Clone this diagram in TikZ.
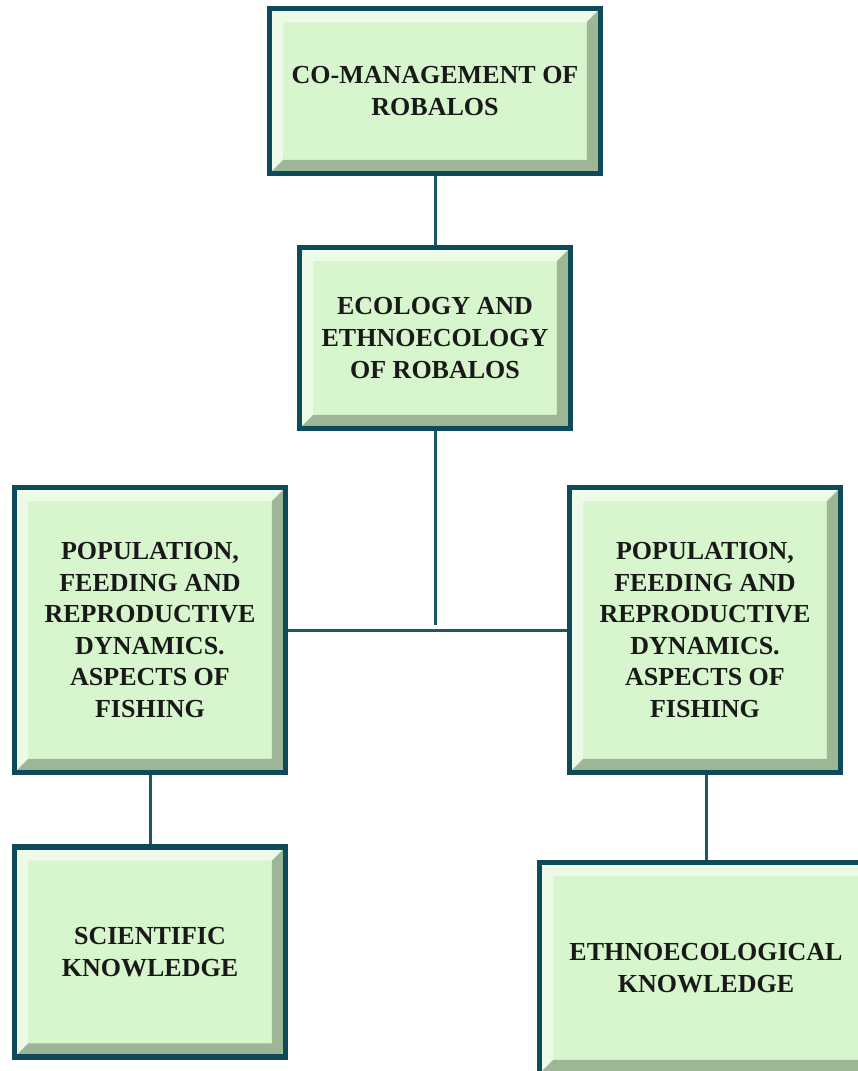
\documentclass[tikz,border=0pt]{standalone}
\usepackage{fontspec}
\setmainfont{Liberation Serif}
\definecolor{boxline}{HTML}{0F4A5B}
\definecolor{boxfill}{HTML}{D8F6CD}
\definecolor{bevdark}{HTML}{9DB696}
\definecolor{wire}{HTML}{1D5869}
\newcommand{\bev}{0.27cm}
\tikzset{
  bevelbox/.style={rectangle, draw=boxline, line width=1.1mm, fill=boxfill,
    inner sep=0pt, align=center, text=black!90,
    font=\bfseries\fontsize{14.8}{18}\selectfont,
    path picture={
      \path (path picture bounding box.south west) coordinate (sw)
            (path picture bounding box.north east) coordinate (ne);
      \fill[white,opacity=.55] (sw) -- ++(\bev,\bev) |- ([shift={(-\bev,-\bev)}]ne)
            -- (ne) -| (sw) -- cycle;
      \fill[bevdark] (sw) -- ++(\bev,\bev) -| ([shift={(-\bev,-\bev)}]ne)
            -- (ne) |- (sw) -- cycle;
    }},
  wireline/.style={draw=wire, line width=0.6mm}
}
\begin{document}
\begin{tikzpicture}[x=0.02cm,y=-0.02cm]
      \useasboundingbox (0,0) rectangle (858,1071);
      \node[bevelbox, minimum width=6.62cm, minimum height=3.3cm] (comgmt) at (435,91)
        {CO-MANAGEMENT OF\\ROBALOS};
      \node[bevelbox, minimum width=5.42cm, minimum height=3.62cm] (ecol) at (435,338)
        {ECOLOGY AND\\ETHNOECOLOGY\\OF ROBALOS};
      \node[bevelbox, minimum width=5.42cm, minimum height=5.7cm] (popl) at (150,630)
        {POPULATION,\\FEEDING AND\\REPRODUCTIVE\\DYNAMICS.\\ASPECTS OF\\FISHING};
      \node[bevelbox, minimum width=5.42cm, minimum height=5.7cm] (popr) at (705,630)
        {POPULATION,\\FEEDING AND\\REPRODUCTIVE\\DYNAMICS.\\ASPECTS OF\\FISHING};
      \node[bevelbox, minimum width=5.42cm, minimum height=4.2cm] (scient) at (150,952)
        {SCIENTIFIC\\KNOWLEDGE};
      \node[bevelbox, minimum width=6.66cm, minimum height=4.22cm] (ethno) at (706,968)
        {ETHNOECOLOGICAL\\KNOWLEDGE};
      \coordinate (junct) at (435,625);
      \begin{scope}[wireline]
        \draw (comgmt) to (ecol);
        \draw (ecol) to (junct);
        \draw (popl) to (popr);
        \draw (popl) to (scient);
        \draw (popr.south -| ethno) to (ethno);
      \end{scope}
    \end{tikzpicture}
\end{document}
